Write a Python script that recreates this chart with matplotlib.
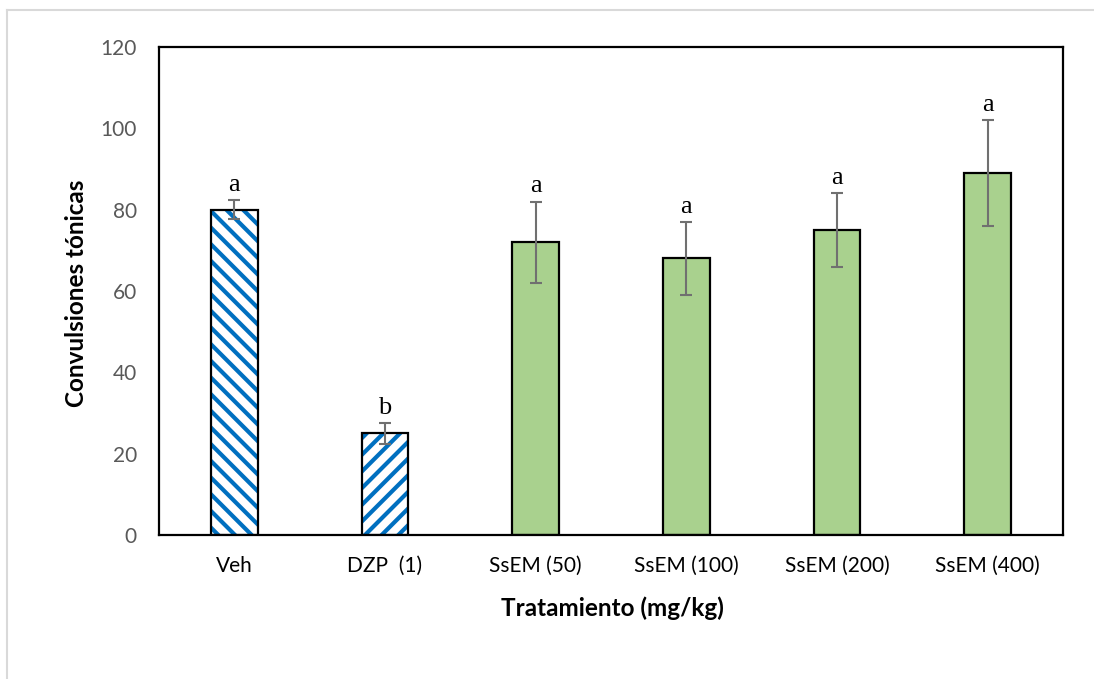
import matplotlib
matplotlib.use("Agg")
import matplotlib.pyplot as plt
from matplotlib.lines import Line2D

# data
categories = ["Veh", "DZP  (1)", "SsEM (50)", "SsEM (100)", "SsEM (200)", "SsEM (400)"]
means = [80, 25, 72, 68, 75, 89]
errors = [2.3, 2.5, 10, 9, 9, 13]
letters = ["a", "b", "a", "a", "a", "a"]
hatches = ["\\\\", "//", None, None, None, None]

BLUE = "#0070C0"
GREEN = "#A9D18E"
GRAY_TXT = "#595959"

plt.rcParams["font.family"] = ["Lato", "DejaVu Sans"]
plt.rcParams["hatch.linewidth"] = 3.0
plt.rcParams["hatch.color"] = BLUE

fig = plt.figure(figsize=(10.94, 6.79), dpi=100)
ax = fig.add_axes([159 / 1094, 1 - 535 / 679, (1063 - 159) / 1094, (535 - 47) / 679])

x = list(range(len(categories)))
w = 0.31
for i, (m, h) in enumerate(zip(means, hatches)):
    if h:
        # hatched fill first, then black outline on top
        ax.bar(i, m, width=w, color="white", edgecolor=BLUE, hatch=h, linewidth=0, zorder=2)
        ax.bar(i, m, width=w, color="none", edgecolor="black", linewidth=1.6, zorder=3)
    else:
        ax.bar(i, m, width=w, color=GREEN, edgecolor="black", linewidth=1.6, zorder=2)

ax.errorbar(x, means, yerr=errors, fmt="none", ecolor="#707070", elinewidth=1.5,
            capsize=4.5, capthick=1.5, zorder=4)

for i, (m, e, t) in enumerate(zip(means, errors, letters)):
    ax.text(i, m + e + 1.0, t, ha="center", va="bottom", fontsize=19,
            family="Liberation Serif", color="black")

ax.set_xlim(-0.5, len(categories) - 0.5)
ax.set_ylim(0, 120)
ax.set_yticks(range(0, 121, 20))
ax.set_xticks(x)
ax.set_xticklabels(categories)
ax.tick_params(axis="both", length=0, labelsize=15, colors="black")
ax.tick_params(axis="y", pad=16, labelcolor=GRAY_TXT)
ax.tick_params(axis="x", pad=15, labelcolor="black")
for s in ax.spines.values():
    s.set_linewidth(1.6)
    s.set_color("black")

fig.text(612 / 1094, 1 - 608 / 679, "Tratamiento (mg/kg)", ha="center", va="center",
         fontsize=17.5, fontweight="bold")
fig.text(76 / 1094, 1 - 293 / 679, "Convulsiones tónicas", ha="center", va="center",
         rotation=90, fontsize=17.5, fontweight="bold")

# light frame on the left and top like the original chart area
fig.add_artist(Line2D([7 / 1094, 7 / 1094], [0, 1 - 10 / 679], color="#D9D9D9", lw=1.5))
fig.add_artist(Line2D([7 / 1094, 1], [1 - 10 / 679, 1 - 10 / 679], color="#D9D9D9", lw=1.5))

fig.savefig("out.png", dpi=100)
